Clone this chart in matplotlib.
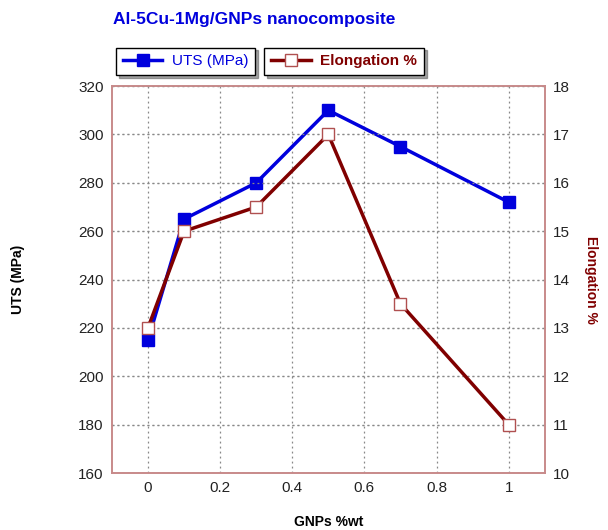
import numpy as np
import matplotlib.pyplot as plt

# данные с графика
gnp = [0, 0.1, 0.3, 0.5, 0.7, 1.0]
uts = [215, 265, 280, 310, 295, 272]
elong = [13, 15, 15.5, 17, 13.5, 11]

x_ticks = [0, 0.2, 0.4, 0.6, 0.8, 1]
uts_ticks = list(range(160, 321, 20))
el_ticks = list(range(10, 19))

blue = "#0000dd"
red = "#800000"
spine_col = "#c88a8a"

plt.rcParams["font.family"] = ["Liberation Sans", "DejaVu Sans"]

fig = plt.figure(figsize=(6.08, 5.30), dpi=100)
ax = fig.add_axes([0.184, 0.1075, 0.712, 0.730])
ax2 = ax.twinx()

l1, = ax.plot(gnp, uts, color=blue, lw=2.5, marker="s", ms=8,
              mfc=blue, mec=blue, label="UTS (MPa)", zorder=3)
l2, = ax2.plot(gnp, elong, color=red, lw=2.5, marker="s", ms=8,
               mfc="white", mec="#b05050", mew=1, label="Elongation %", zorder=3)

ax.set_xlim(-0.1, 1.1)
ax.set_ylim(160, 320)
ax2.set_ylim(10, 18)
ax.set_xticks(x_ticks)
ax.set_xticklabels(["0", "0.2", "0.4", "0.6", "0.8", "1"])
ax.set_yticks(uts_ticks)
ax2.set_yticks(el_ticks)

ax.grid(True, ls=(0, (1.5, 2.5)), color="#888888", lw=0.9)
ax2.yaxis.grid(True, ls=(0, (1.5, 2.5)), color="#888888", lw=0.9)
ax.tick_params(length=0, labelsize=11, pad=6, labelcolor="#222222")
ax2.tick_params(length=0, labelsize=11, pad=6, labelcolor="#222222")
for a in (ax, ax2):
    for s in a.spines.values():
        s.set_color(spine_col)
        s.set_linewidth(1.2)

ax.set_xlabel("GNPs %wt", fontsize=10, fontweight="bold", labelpad=14)
ax.set_ylabel("UTS (MPa)", fontsize=10, fontweight="bold", labelpad=38)
ax2.set_ylabel("Elongation %", fontsize=10, fontweight="bold", color=red,
               rotation=270, labelpad=20)

fig.text(0.186, 0.963, "Al-5Cu-1Mg/GNPs nanocomposite", color=blue,
         fontsize=12.5, fontweight="bold", va="center")

leg1 = fig.legend(handles=[l1], loc="center left", bbox_to_anchor=(0.178, 0.884),
                  frameon=True, fancybox=False, shadow=True, edgecolor="black",
                  fontsize=11, handlelength=2.6, borderpad=0.45, handletextpad=0.6)
for t in leg1.get_texts():
    t.set_color(blue)
leg2 = fig.legend(handles=[l2], loc="center left", bbox_to_anchor=(0.422, 0.884),
                  frameon=True, fancybox=False, shadow=True, edgecolor="black",
                  fontsize=11, handlelength=2.6, borderpad=0.45, handletextpad=0.6)
for t in leg2.get_texts():
    t.set_color(red)
    t.set_fontweight("bold")

fig.savefig("out.png", dpi=100)
